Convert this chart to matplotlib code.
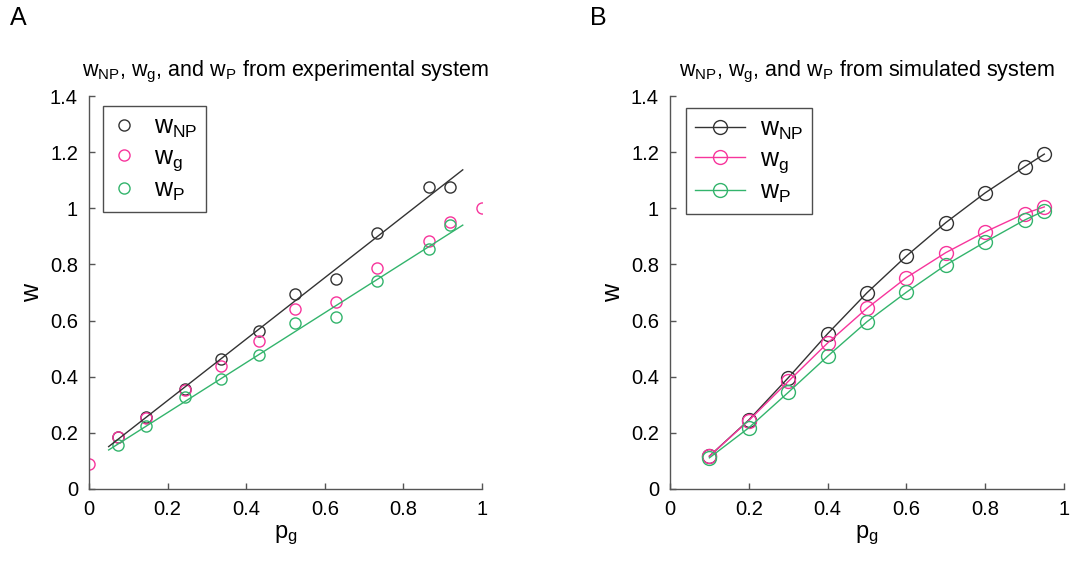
"""Two-panel w vs p_g figure: experimental (A) and simulated (B) systems."""
import matplotlib
import numpy as np

matplotlib.use("Agg")
import matplotlib.pyplot as plt

plt.rcParams["font.family"] = ["Liberation Sans", "DejaVu Sans"]
plt.rcParams["mathtext.fontset"] = "custom"
plt.rcParams["mathtext.rm"] = "Liberation Sans"
plt.rcParams["mathtext.it"] = "Liberation Sans"

BLACK, MAGENTA, GREEN = "#333333", "#f7359c", "#33b46c"

# --- panel A: experimental ----------------------------------------------------
exp_p = [0.075, 0.144, 0.244, 0.337, 0.432, 0.524, 0.628, 0.732, 0.864, 0.919]
exp_np = [0.187, 0.258, 0.357, 0.464, 0.563, 0.693, 0.749, 0.911, 1.077, 1.077]
exp_g_p = [0.0] + exp_p + [1.0]
exp_g = [0.088, 0.187, 0.254, 0.351, 0.439, 0.526, 0.640, 0.665, 0.787, 0.885, 0.950, 1.000]
exp_P = [0.157, 0.224, 0.327, 0.392, 0.476, 0.593, 0.614, 0.742, 0.854, 0.940]
# linear fits drawn over the data (end points)
fit_p = [0.05, 0.951]
fit_np = [0.151, 1.137]
fit_P = [0.139, 0.940]

# --- panel B: simulated -------------------------------------------------------
sim_p = [0.1, 0.2, 0.3, 0.4, 0.5, 0.6, 0.7, 0.8, 0.9, 0.95]
sim_np = [0.117, 0.246, 0.396, 0.553, 0.699, 0.830, 0.949, 1.055, 1.148, 1.193]
sim_g = [0.117, 0.244, 0.383, 0.520, 0.644, 0.753, 0.842, 0.916, 0.981, 1.005]
sim_P = [0.111, 0.218, 0.344, 0.473, 0.596, 0.701, 0.798, 0.880, 0.958, 0.991]

LBL = [r"$\mathregular{w_{NP}}$", r"$\mathregular{w_{g}}$", r"$\mathregular{w_{P}}$"]

fig = plt.figure(figsize=(10.72, 5.62), dpi=100)
axA = fig.add_axes([89 / 1072, 1 - 489 / 562, 393 / 1072, 393 / 562])
axB = fig.add_axes([670 / 1072, 1 - 489 / 562, 394 / 1072, 393 / 562])

mk = dict(marker="o", mfc="none", mew=1.0)
axA.plot(exp_p, exp_np, ls="none", color=BLACK, ms=8, label=LBL[0], **mk)
axA.plot(exp_g_p, exp_g, ls="none", color=MAGENTA, ms=8, label=LBL[1], **mk)
axA.plot(exp_p, exp_P, ls="none", color=GREEN, ms=8, label=LBL[2], **mk)
axA.plot(fit_p, fit_np, color=BLACK, lw=1.0)
axA.plot(fit_p, fit_P, color=GREEN, lw=1.0)

for ys, c, lab in zip([sim_np, sim_g, sim_P], [BLACK, MAGENTA, GREEN], LBL):
    axB.plot(sim_p, ys, color=c, lw=1.0, ms=10, label=lab, **mk)

titles = [r"$\mathregular{w_{NP}}$, $\mathregular{w_{g}}$, and $\mathregular{w_{P}}$ from experimental system",
          r"$\mathregular{w_{NP}}$, $\mathregular{w_{g}}$, and $\mathregular{w_{P}}$ from simulated system"]
for ax, t in zip([axA, axB], titles):
    ax.set_xlim(0, 1); ax.set_ylim(0, 1.4)
    ax.set_xticks(np.arange(0, 1.01, 0.2)); ax.set_yticks(np.arange(0, 1.41, 0.2))
    ax.set_xticklabels(["0", "0.2", "0.4", "0.6", "0.8", "1"])
    ax.set_yticklabels(["0", "0.2", "0.4", "0.6", "0.8", "1", "1.2", "1.4"])
    for s in ["top", "right"]:
        ax.spines[s].set_visible(False)
    for s in ["left", "bottom"]:
        ax.spines[s].set_color("#555555"); ax.spines[s].set_linewidth(1.0)
    ax.tick_params(direction="in", length=4, width=1, color="#555555",
                   labelsize=14.5, pad=8)
    ax.set_xlabel(r"$\mathregular{p_g}$", fontsize=17, labelpad=3)
    ax.set_ylabel("w", fontsize=18, labelpad=4)
    ax.set_title(t, fontsize=15.5, pad=14)

legA = axA.legend(loc="upper left", bbox_to_anchor=(0.035, 0.975), fontsize=18,
                  frameon=True, fancybox=False, edgecolor="#222222",
                  handlelength=1.0, handletextpad=0.7, labelspacing=0.2,
                  borderpad=0.35, borderaxespad=0)
legB = axB.legend(loc="upper left", bbox_to_anchor=(0.04, 0.97), fontsize=18,
                  frameon=True, fancybox=False, edgecolor="#222222",
                  handlelength=2.0, handletextpad=0.6, labelspacing=0.2,
                  borderpad=0.35, borderaxespad=0)
for leg in (legA, legB):
    leg.get_frame().set_linewidth(1.0)

fig.text(10 / 1072, 1 - 18 / 562, "A", fontsize=18, va="center")
fig.text(590 / 1072, 1 - 18 / 562, "B", fontsize=18, va="center")

fig.savefig("out.png", dpi=100)
